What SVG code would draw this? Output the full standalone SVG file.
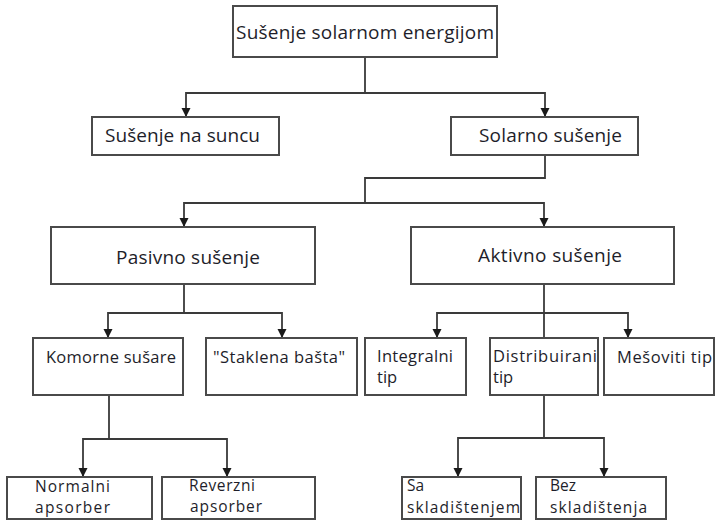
<svg xmlns="http://www.w3.org/2000/svg" width="718" height="521" viewBox="0 0 718 521">
<style>
.box{fill:#fff;stroke:#4a4a4a;stroke-width:2}
.t1{font-family:"Open Sans","Noto Sans","DejaVu Sans",sans-serif;font-size:19px;fill:#1e1e2a}
.t2{font-family:"Open Sans","Noto Sans","DejaVu Sans",sans-serif;font-size:16.5px;fill:#1e1e2a}
.t3{font-family:"Open Sans","Noto Sans","DejaVu Sans",sans-serif;font-size:15.5px;fill:#1e1e2a}
.c{fill:none;stroke:#3a3a3a;stroke-width:1.8}
.a{marker-end:url(#arr)}
</style>
<defs>
<marker id="arr" markerUnits="userSpaceOnUse" markerWidth="9" markerHeight="10" refX="9" refY="4.5" orient="auto">
<path d="M0,0 L9,4.5 L0,9 z" fill="#1a1a1a"/>
</marker>
</defs>
<rect width="718" height="521" fill="#fff"/>
<g id="connectors">
<path class="c a" d="M365,57 V93 H186 V117"/>
<path class="c a" d="M365,93 H545 V117"/>
<path class="c a" d="M545,155 V178 H365 V203 H184 V227"/>
<path class="c a" d="M365,203 H544 V227"/>
<path class="c a" d="M184,284 V313 H108 V338"/>
<path class="c a" d="M184,313 H282 V338"/>
<path class="c" d="M544,284 V338"/>
<path class="c a" d="M544,313 H437 V338"/>
<path class="c a" d="M544,313 H628 V338"/>
<path class="c a" d="M109,395 V439 H83 V477"/>
<path class="c a" d="M109,439 H227 V477"/>
<path class="c a" d="M544,395 V438 H458 V477"/>
<path class="c a" d="M544,438 H604 V477"/>
</g>
<g id="n-root"><rect class="box" x="233" y="6" width="264" height="51"/><text class="t1" x="365" y="39" text-anchor="middle" textLength="258">Sušenje solarnom energijom</text></g>
<g id="n-suncu"><rect class="box" x="92" y="117" width="187" height="38"/><text class="t1" x="105" y="142" textLength="155">Sušenje na suncu</text></g>
<g id="n-solarno"><rect class="box" x="451" y="117" width="187" height="38"/><text class="t1" x="479" y="142" textLength="143">Solarno sušenje</text></g>
<g id="n-pasivno"><rect class="box" x="51" y="227" width="264" height="57"/><text class="t1" x="116" y="264" textLength="144">Pasivno sušenje</text></g>
<g id="n-aktivno"><rect class="box" x="411" y="227" width="263" height="57"/><text class="t1" x="478" y="262" textLength="144">Aktivno sušenje</text></g>
<g id="n-komorne"><rect class="box" x="33" y="338" width="150" height="57"/><text class="t2" x="46" y="363" textLength="130">Komorne sušare</text></g>
<g id="n-staklena"><rect class="box" x="206" y="338" width="151" height="57"/><text class="t2" x="213" y="363" textLength="132">"Staklena bašta"</text></g>
<g id="n-integralni"><rect class="box" x="365" y="338" width="101" height="57"/><text class="t2" x="377" y="362" textLength="76">Integralni</text><text class="t2" x="377" y="383">tip</text></g>
<g id="n-distribuirani"><rect class="box" x="490" y="338" width="108" height="57"/><text class="t2" x="493" y="362" textLength="104">Distribuirani</text><text class="t2" x="493" y="383">tip</text></g>
<g id="n-mesoviti"><rect class="box" x="604" y="338" width="110" height="57"/><text class="t2" x="617" y="363" textLength="95">Mešoviti tip</text></g>
<g id="n-normalni"><rect class="box" x="7" y="477" width="145" height="42"/><text class="t3" x="35" y="492" textLength="75">Normalni</text><text class="t3" x="35" y="513" textLength="75">apsorber</text></g>
<g id="n-reverzni"><rect class="box" x="162" y="477" width="153" height="42"/><text class="t3" x="189" y="491" textLength="66">Reverzni</text><text class="t3" x="190" y="512" textLength="72">apsorber</text></g>
<g id="n-sa"><rect class="box" x="402" y="477" width="119" height="42"/><text class="t3" x="407" y="491">Sa</text><text class="t3" x="407" y="513" textLength="113">skladištenjem</text></g>
<g id="n-bez"><rect class="box" x="536" y="477" width="130" height="42"/><text class="t3" x="550" y="491">Bez</text><text class="t3" x="550" y="513" textLength="97">skladištenja</text></g>
</svg>
